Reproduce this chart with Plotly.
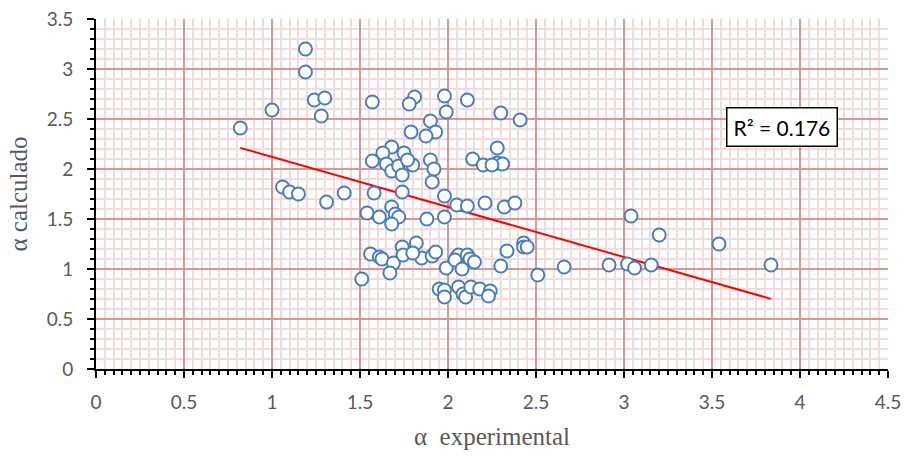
import numpy as np
import plotly.graph_objects as go

# alpha experimental (x) and alpha calculado (y)
alpha_exp = [
    0.82, 1.00, 1.19, 1.19, 1.24, 1.30, 1.28, 1.06, 1.10, 1.15,
    1.31, 1.41, 1.57, 1.81, 1.78, 1.98, 1.99, 2.11, 2.30, 2.41,
    1.90, 1.93, 1.875, 1.79, 2.28, 1.68, 1.63, 1.75, 1.57, 1.90,
    2.14, 2.20, 2.28, 2.31, 2.25, 1.65, 1.68, 1.72, 1.74, 1.78,
    1.80, 1.92, 1.91, 1.77, 1.58, 1.74, 1.98, 2.05, 1.54, 1.61,
    1.68, 1.70, 1.72, 1.68, 1.88, 1.98, 2.11, 2.21, 2.32, 2.38,
    1.56, 1.61, 1.625, 1.74, 1.82, 1.69, 1.745, 1.85, 1.91, 1.93,
    1.80, 1.67, 1.51, 1.99, 2.05, 2.06, 2.04, 2.11, 2.125, 2.08,
    2.15, 2.30, 2.335, 2.43, 2.43, 2.45, 2.51, 2.66, 1.95, 1.98,
    1.98, 2.06, 2.085, 2.10, 2.13, 2.18, 2.24, 2.23, 2.915, 3.02,
    3.06, 3.155, 3.04, 3.20, 3.54, 3.835,
]
alpha_calc = [
    2.41, 2.59, 3.20, 2.97, 2.69, 2.71, 2.53, 1.82, 1.77, 1.75,
    1.67, 1.76, 2.67, 2.72, 2.65, 2.73, 2.57, 2.69, 2.56, 2.49,
    2.48, 2.37, 2.33, 2.37, 2.21, 2.22, 2.16, 2.16, 2.08, 2.09,
    2.10, 2.04, 2.06, 2.05, 2.04, 2.05, 1.98, 2.03, 1.94, 2.05,
    2.04, 2.00, 1.87, 2.09, 1.76, 1.77, 1.73, 1.64, 1.56, 1.52,
    1.62, 1.55, 1.52, 1.45, 1.50, 1.52, 1.63, 1.66, 1.62, 1.66,
    1.15, 1.12, 1.10, 1.22, 1.26, 1.06, 1.14, 1.11, 1.13, 1.17,
    1.16, 0.96, 0.90, 1.01, 1.12, 1.14, 1.09, 1.14, 1.10, 1.00,
    1.07, 1.03, 1.18, 1.26, 1.22, 1.22, 0.94, 1.02, 0.80, 0.79,
    0.72, 0.82, 0.75, 0.72, 0.82, 0.80, 0.78, 0.73, 1.04, 1.05,
    1.01, 1.04, 1.53, 1.34, 1.25, 1.04,
]
r2_label = "R² = 0.176"
x_title = "α  experimental"
y_title = "α calculado"

x = np.array(alpha_exp)
y = np.array(alpha_calc)
slope, intercept = np.polyfit(x, y, 1)
xt = np.array([x.min(), x.max()])
yt = slope * xt + intercept

fig = go.Figure()
fig.add_trace(go.Scatter(
    x=xt, y=yt, mode="lines",
    line=dict(color="#ff0000", width=2), hoverinfo="skip", showlegend=False))
fig.add_trace(go.Scatter(
    x=x, y=y, mode="markers",
    marker=dict(symbol="circle", size=13, color="white",
                line=dict(color="#4a7ebb", width=2)),
    showlegend=False))

major_grid = "#d99694"
minor_grid = "#f2dcdb"
tick_font = dict(family="Lato, Carlito, sans-serif", size=19, color="#595959")
title_font = dict(family="Liberation Serif, Times New Roman, serif", size=25, color="#595959")

def axis_style(minor_step):
    return dict(
        showgrid=True, gridcolor=major_grid, gridwidth=2,
        showline=True, linecolor="black", linewidth=2,
        ticks="outside", ticklen=7, tickwidth=2, tickcolor="black",
        zeroline=False, tickfont=tick_font, layer="above traces",
        automargin=False,
        minor=dict(dtick=minor_step, showgrid=True, gridcolor=minor_grid, gridwidth=2,
                   ticks="outside", ticklen=4, tickwidth=1.5, tickcolor="black"),
    )

fig.update_xaxes(range=[0, 4.5], dtick=0.5, tick0=0,
                 title=dict(text=x_title, font=title_font, standoff=16),
                 ticklabelstandoff=8, **axis_style(0.05))
fig.update_yaxes(range=[0, 3.5], dtick=0.5, tick0=0,
                 title=dict(text=y_title, font=title_font, standoff=12),
                 ticklabelstandoff=10, **axis_style(0.1))

fig.add_annotation(
    x=3.9, y=2.42, xref="x", yref="y", text=r2_label, showarrow=False,
    font=dict(family="Lato, Carlito, sans-serif", size=21, color="black"),
    bgcolor="white", bordercolor="black", borderwidth=1.5, borderpad=6)

fig.update_layout(
    width=906, height=459,
    margin=dict(l=96, r=18, t=19, b=90),
    plot_bgcolor="white", paper_bgcolor="white",
)

fig.write_html("out.html")
